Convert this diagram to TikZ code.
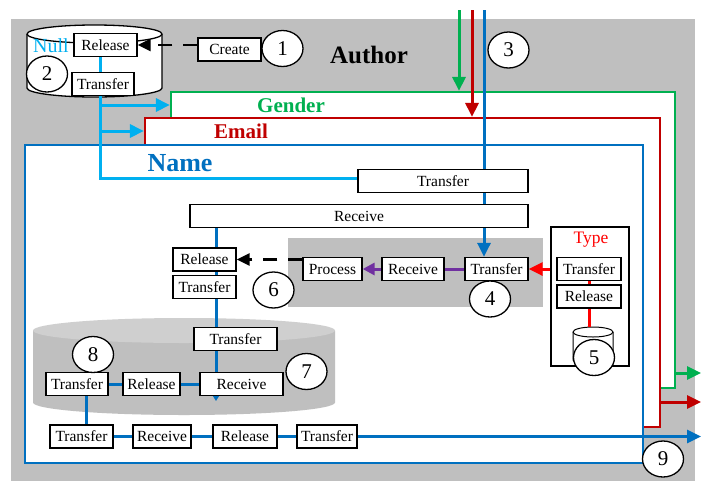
\documentclass[tikz,border=0pt]{standalone}
\usepackage{fontspec}
\setmainfont{Liberation Serif}
\usetikzlibrary{arrows.meta,shapes.geometric}

\definecolor{cyanL}{HTML}{00B0F0}
\definecolor{blueN}{HTML}{0070C0}
\definecolor{greenG}{HTML}{00B050}
\definecolor{redE}{HTML}{C00000}
\definecolor{redT}{HTML}{FF0000}
\definecolor{purpleP}{HTML}{7030A0}
\definecolor{grayA}{HTML}{BFBFBF}
\definecolor{grayB}{HTML}{CFCFCF}

\pgfdeclarelayer{back}
\pgfdeclarelayer{wires}
\pgfsetlayers{back,wires,main}

\tikzset{
  box/.style={draw, fill=white, line width=1.3pt, minimum height=23pt, inner sep=0pt,
    font=\fontsize{15.5}{16}\selectfont},
  num/.style={draw, ellipse, fill=white, line width=1.3pt, minimum width=41pt,
    minimum height=36pt, inner sep=0pt, font=\fontsize{21}{21}\selectfont},
  region/.style={fill=white, line width=2.2pt, inner sep=0pt},
  wire/.style={line width=3pt},
  bigarr/.style={-{Triangle[length=14pt,width=13pt]}},
  dasharr/.style={line width=2.5pt, dash pattern=on 14pt off 11pt,
    -{Triangle[length=13pt,width=12pt]}},
}

\begin{document}
\begin{tikzpicture}[x=1pt,y=-1pt]
\useasboundingbox (0,0) rectangle (704,483);

\begin{pgfonlayer}{back}
\fill[grayA] (11,19) rectangle (695,481);
\node[region, draw=greenG, minimum width=504pt, minimum height=296pt] (genderbox) at (423,240) {};
\node[region, draw=redE, minimum width=515pt, minimum height=309pt] (emailbox) at (402.5,272.5) {};
\node[region, draw=blueN, minimum width=618pt, minimum height=318pt] (namebox) at (334,304) {};
\fill[grayA] (288,238) rectangle (543,307);
% big cylinder
\fill[grayA] (33,330.5) -- (33,402.5) arc[start angle=180, end angle=360, x radius=151pt, y radius=12.5pt]
  -- (335,330.5) -- cycle;
\fill[grayB] (184,330.5) ellipse[x radius=151pt, y radius=12.5pt];
\node[draw, fill=white, line width=1.3pt, minimum width=78pt, minimum height=139pt] (typebox) at (590,296.5) {};
% small cylinder
\draw[fill=white, line width=1pt] (573,332) -- (573,360) arc[start angle=180, end angle=360, x radius=20pt, y radius=5pt]
  -- (613,332) arc[start angle=0, end angle=180, x radius=20pt, y radius=5pt];
\draw[line width=1pt] (573,332) arc[start angle=180, end angle=360, x radius=20pt, y radius=5pt];
% null cylinder
\draw[fill=white, line width=1.3pt] (27,34) -- (27,88) arc[start angle=180, end angle=360, x radius=67.5pt, y radius=9pt]
  -- (162,34) arc[start angle=0, end angle=180, x radius=67.5pt, y radius=9pt];
\draw[line width=1.3pt] (27,34) arc[start angle=180, end angle=360, x radius=67.5pt, y radius=9pt];
\end{pgfonlayer}

\foreach \nm/\x/\y/\w/\t in {rel1/105.5/45/63/Release, tr1/103/84/62/Transfer,
  create/229.5/49.5/63/Create, trT/443/181/170/Transfer, recW/359/216/338/Receive,
  trP/496.5/269/63/Transfer, recP/413/269/62/Receive, proc/332.5/269/59/Process,
  relL/204.5/259.5/63/Release, trL/204.5/287/63/Transfer,
  trType/589/269/64/Transfer, relType/589/296.5/64/Release,
  trC/235.5/339/83/Transfer, recC/241.5/384/83/Receive, relC/151.5/384/57/Release,
  trC2/77/384/62/Transfer, trB1/81.5/436.5/63/Transfer, recB/162/436.5/58/Receive,
  relB/245/436.5/64/Release, trB2/327/436.5/60/Transfer}{
\node[box, minimum width=\w pt] (\nm) at (\x,\y) {\t};
}

\foreach \n/\x/\y in {1/282.5/48.5, 2/47/74, 3/508.5/50, 4/490/299, 5/594/357.5,
  6/273.5/290, 7/306.5/371.5, 8/93/354.5, 9/663/459}{
\node[num] (c\n) at (\x,\y) {\n};
}

\node[font=\bfseries\fontsize{25}{25}\selectfont] (author) at (369,55) {Author};
\node[text=greenG, font=\bfseries\fontsize{21}{21}\selectfont] (gender) at (291,105) {Gender};
\node[text=redE, font=\bfseries\fontsize{21}{21}\selectfont] (email) at (241,131) {Email};
\node[text=blueN, font=\bfseries\fontsize{26}{26}\selectfont] (name) at (180,163) {Name};
\node[text=cyanL, font=\fontsize{20}{20}\selectfont] (null) at (51,46) {Null};
\node[text=redT, font=\fontsize{17.5}{18}\selectfont] (type) at (591,240) {Type};

\coordinate (bin) at (484,10);
\coordinate (bx) at (216,0);
\coordinate (bend) at (216,401);
\coordinate (lx) at (86,0);
\coordinate (bout) at (701,436.5);
\coordinate (gin) at (459,10);
\coordinate (gout) at (701,373);
\coordinate (rin) at (472,10);
\coordinate (rout) at (701,402);
\coordinate (cx) at (100,0);
\coordinate (c1) at (100,105);
\coordinate (c2) at (100,131);
\coordinate (c3) at (100,178);
\coordinate (sc) at (589,327);

\begin{pgfonlayer}{wires}
\draw[wire, blueN, bigarr] (bin) -- (bin |- trP.north);
\draw[wire, blueN, -{Triangle[length=6pt,width=7pt]}] (bx |- recW.south) -- (bend);
\draw[wire, blueN] (lx |- trC2.south) -- (lx |- trB1.north);
\draw[wire, blueN] (trC2) -- (relC) -- (recC);
\draw[wire, blueN] (trB1) -- (recB) -- (relB) -- (trB2);
\draw[wire, blueN, bigarr] (trB2.east) -- (bout);
\draw[wire, greenG, bigarr] (gin) -- (gin |- genderbox.north);
\draw[wire, greenG, bigarr] (gout -| genderbox.east) -- (gout);
\draw[wire, redE, bigarr] (rin) -- (rin |- emailbox.north);
\draw[wire, redE, bigarr] (rout -| emailbox.east) -- (rout);
\draw[wire, cyanL] (cx |- rel1) -- (c3) -- (c3 -| trT.west);
\draw[wire, cyanL, bigarr] (c1) -- (c1 -| genderbox.west);
\draw[wire, cyanL, bigarr] (c2) -- (c2 -| emailbox.west);
\draw[wire, purpleP] (trP) -- (recP);
\draw[wire, purpleP, -{Triangle[length=12pt,width=12pt]}] (recP.west) -- (proc.east);
\draw[wire, redT, bigarr] (typebox.west |- trP) -- (trP.east);
\draw[wire, redT] (trType) -- (relType) -- (sc);
\end{pgfonlayer}

\draw[dasharr] (create.west |- rel1) -- (rel1.east);
\draw[dasharr] (proc.west |- relL) -- (relL.east);
\end{tikzpicture}
\end{document}
